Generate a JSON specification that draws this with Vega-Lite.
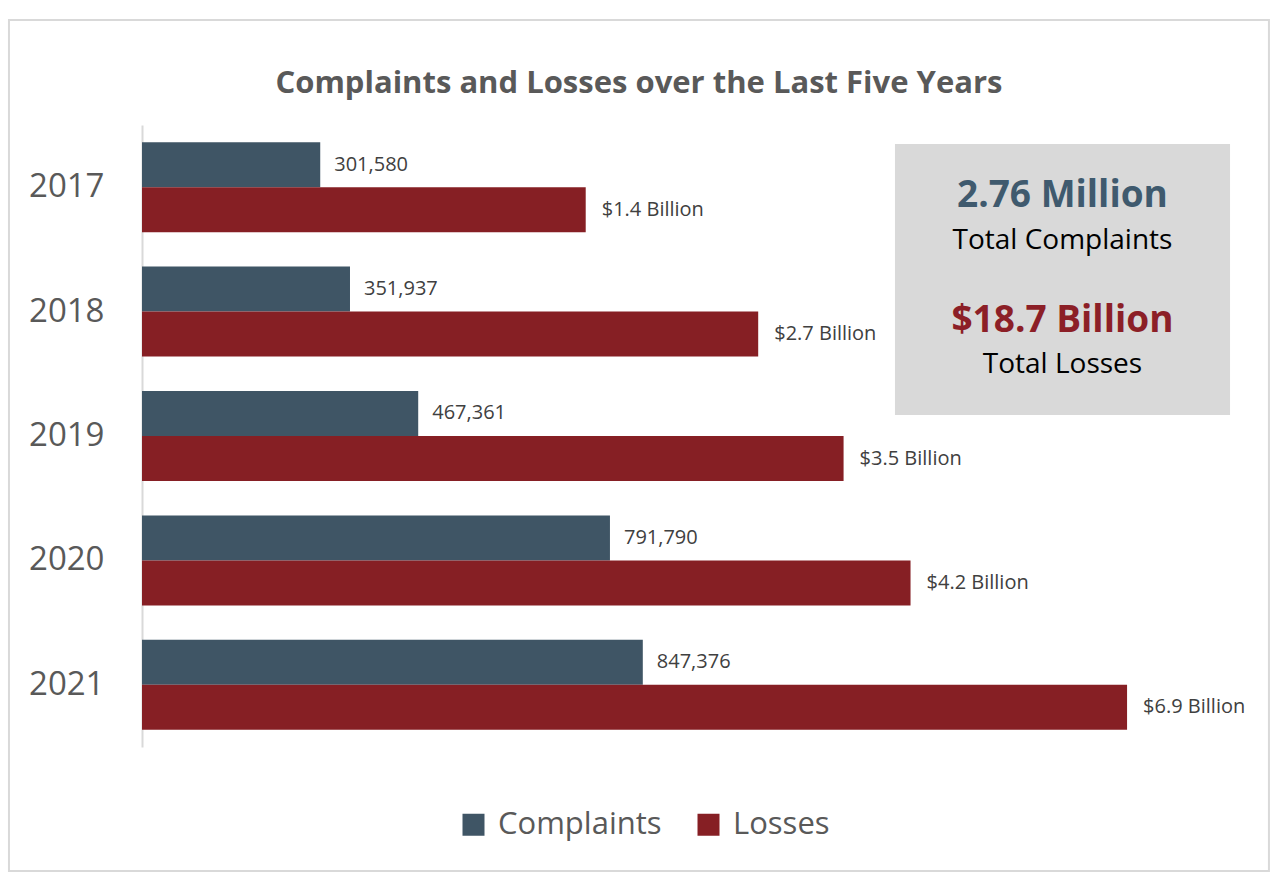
{
  "$schema": "https://vega.github.io/schema/vega-lite/v6.json",
  "width": 1118,
  "height": 622,
  "autosize": {"type": "none"},
  "padding": {"left": 142, "top": 125, "right": 20, "bottom": 139},
  "background": "#ffffff",
  "title": {
    "text": "Complaints and Losses over the Last Five Years",
    "frame": "bounds",
    "anchor": "middle",
    "baseline": "alphabetic",
    "offset": -105,
    "fontSize": 31,
    "fontWeight": "bold",
    "color": "#595959",
    "font": "Open Sans"
  },
  "data": {
    "values": [
      {"year": "2017", "Complaints": 301580, "Losses": 1.4},
      {"year": "2018", "Complaints": 351937, "Losses": 2.7},
      {"year": "2019", "Complaints": 467361, "Losses": 3.5},
      {"year": "2020", "Complaints": 791790, "Losses": 4.2},
      {"year": "2021", "Complaints": 847376, "Losses": 6.9}
    ]
  },
  "layer": [
    {
      "transform": [{"fold": ["Complaints"], "as": ["series", "value"]}],
      "encoding": {
        "y": {
          "field": "year",
          "type": "nominal",
          "sort": ["2017", "2018", "2019", "2020", "2021"],
          "scale": {"paddingInner": 0.2765, "paddingOuter": 0.138},
          "axis": {
            "title": null,
            "ticks": false,
            "labelFontSize": 33,
            "labelColor": "#595959",
            "labelPadding": 38,
            "domainColor": "#d9d9d9",
            "domainWidth": 2,
            "labelFont": "Open Sans"
          }
        },
        "yOffset": {"field": "series", "type": "nominal", "scale": {"domain": ["Complaints", "Losses"], "paddingInner": 0, "paddingOuter": 0}},
        "x": {"field": "value", "type": "quantitative", "scale": {"domain": [0, 1891700], "nice": false, "zero": true}, "axis": null}
      },
      "layer": [
        {
          "mark": {"type": "bar"},
          "encoding": {
            "color": {
              "field": "series",
              "type": "nominal",
              "scale": {"domain": ["Complaints", "Losses"], "range": ["#3f5565", "#861f24"]},
              "legend": {
                "orient": "none",
                "legendX": 316,
                "legendY": 684,
                "direction": "horizontal",
                "title": null,
                "symbolType": "square",
                "symbolSize": 484,
                "symbolStrokeWidth": 0,
                "labelFontSize": 31,
                "labelColor": "#595959",
                "labelFont": "Open Sans",
                "labelOffset": 9,
                "labelLimit": 0,
                "columnPadding": 31,
                "padding": 0
              }
            }
          }
        },
        {
          "mark": {"type": "text", "align": "left", "baseline": "middle", "dx": 14, "fontSize": 20, "color": "#404040", "font": "Open Sans"},
          "encoding": {"text": {"field": "value", "type": "quantitative", "format": ","}}
        }
      ]
    },
    {
      "transform": [
        {"fold": ["Losses"], "as": ["series", "value"]},
        {"calculate": "'$' + format(datum.value, '.1f') + ' Billion'", "as": "label"}
      ],
      "encoding": {
        "y": {
          "field": "year",
          "type": "nominal",
          "sort": ["2017", "2018", "2019", "2020", "2021"],
          "scale": {"paddingInner": 0.2765, "paddingOuter": 0.138},
          "axis": null
        },
        "yOffset": {"field": "series", "type": "nominal", "scale": {"domain": ["Complaints", "Losses"], "paddingInner": 0, "paddingOuter": 0}},
        "x": {"field": "value", "type": "quantitative", "scale": {"type": "sqrt", "domain": [0, 8.888], "nice": false, "zero": true}, "axis": null}
      },
      "layer": [
        {
          "mark": {"type": "bar"},
          "encoding": {
            "color": {"field": "series", "type": "nominal", "scale": {"domain": ["Complaints", "Losses"], "range": ["#3f5565", "#861f24"]}}
          }
        },
        {
          "mark": {"type": "text", "align": "left", "baseline": "middle", "dx": 16, "fontSize": 20, "color": "#404040", "font": "Open Sans"},
          "encoding": {"text": {"field": "label", "type": "nominal"}}
        }
      ]
    },
    {
      "data": {"values": [{"box": "summary"}]},
      "layer": [
        {
          "mark": {"type": "rect", "fill": "none", "stroke": "#d9d9d9", "strokeWidth": 2, "clip": false},
          "encoding": {
            "x": {"datum": -0.119, "type": "quantitative", "scale": {"domain": [0, 1], "nice": false, "zero": false}, "axis": null},
            "x2": {"datum": 1.008},
            "y": {"datum": 1.1688, "type": "quantitative", "scale": {"domain": [0, 1], "nice": false, "zero": false}, "axis": null},
            "y2": {"datum": -0.1994}
          }
        },
        {
          "mark": {"type": "rect", "fill": "#d9d9d9"},
          "encoding": {
            "x": {"datum": 0.6735, "type": "quantitative"},
            "x2": {"datum": 0.9732},
            "y": {"datum": 0.9695, "type": "quantitative"},
            "y2": {"datum": 0.5338}
          }
        },
        {
          "mark": {"type": "text", "text": "2.76 Million", "align": "center", "baseline": "alphabetic", "fontSize": 37, "fontWeight": "bold", "color": "#3f5a6e", "font": "Open Sans"},
          "encoding": {"x": {"datum": 0.8233, "type": "quantitative"}, "y": {"datum": 0.8682, "type": "quantitative"}}
        },
        {
          "mark": {"type": "text", "text": "Total Complaints", "align": "center", "baseline": "alphabetic", "fontSize": 28, "color": "#000000", "font": "Open Sans"},
          "encoding": {"x": {"datum": 0.8233, "type": "quantitative"}, "y": {"datum": 0.8006, "type": "quantitative"}}
        },
        {
          "mark": {"type": "text", "text": "$18.7 Billion", "align": "center", "baseline": "alphabetic", "fontSize": 37, "fontWeight": "bold", "color": "#8c1f27", "font": "Open Sans"},
          "encoding": {"x": {"datum": 0.8233, "type": "quantitative"}, "y": {"datum": 0.6672, "type": "quantitative"}}
        },
        {
          "mark": {"type": "text", "text": "Total Losses", "align": "center", "baseline": "alphabetic", "fontSize": 28, "color": "#000000", "font": "Open Sans"},
          "encoding": {"x": {"datum": 0.8233, "type": "quantitative"}, "y": {"datum": 0.6013, "type": "quantitative"}}
        }
      ]
    }
  ],
  "resolve": {"scale": {"x": "independent", "y": "independent"}},
  "config": {
    "view": {"stroke": null},
    "font": "Open Sans"
  }
}
